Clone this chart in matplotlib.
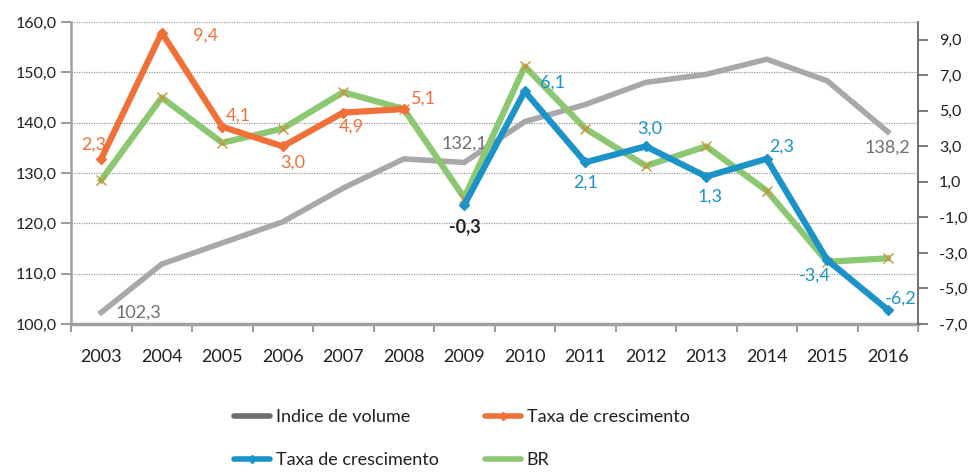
import matplotlib
matplotlib.use("Agg")
import matplotlib.pyplot as plt
from matplotlib.lines import Line2D
import numpy as np

years = ["2003", "2004", "2005", "2006", "2007", "2008", "2009",
         "2010", "2011", "2012", "2013", "2014", "2015", "2016"]
indice_volume = [102.3, 111.9, 116.1, 120.3, 127.0, 132.8, 132.1,
                 140.2, 143.6, 148.0, 149.6, 152.6, 148.3, 138.2]
taxa_orange = [2.3, 9.4, 4.1, 3.0, 4.9, 5.1]          # 2003-2008
taxa_blue = [-0.3, 6.1, 2.1, 3.0, 1.3, 2.3, -3.4, -6.2]  # 2009-2016
br = [1.1, 5.75, 3.2, 4.0, 6.05, 5.1, 0.1,
      7.5, 4.0, 1.9, 3.0, 0.5, -3.5, -3.3]
left_ticks = [100, 110, 120, 130, 140, 150, 160]
right_ticks = [-7, -5, -3, -1, 1, 3, 5, 7, 9]

GRAY = "#a8a8ab"
ORANGE = "#f07038"
BLUE = "#1b93c8"
GREEN = "#8cc872"
TXT = "#231f20"

plt.rcParams['font.family'] = ['Lato', 'DejaVu Sans']

fig = plt.figure(figsize=(9.71, 4.72), dpi=100)
ax = fig.add_axes([71/971, 1-324/472, (918-71)/971, (324-22)/472])
ax2 = ax.twinx()

x = np.arange(len(years))
xo = x[:len(taxa_orange)]
xb = x[len(taxa_orange):len(taxa_orange)+len(taxa_blue)]

# left axis: gray index
ax.plot(x, indice_volume, color=GRAY, lw=4.0, solid_joinstyle='miter', zorder=3)
ax.set_ylim(100, 160)
ax.set_yticks(left_ticks)
ax.set_yticklabels([f"{v:.1f}".replace(".", ",") for v in left_ticks])
for v in left_ticks[1:]:
    ax.axhline(v, color="#9a9a9a", lw=0.9, ls=(0, (1, 1)), zorder=1)
ax.set_xlim(-0.5, len(years) - 0.5)
ax.set_xticks(x)
ax.set_xticklabels(years)
ax.set_xticks(np.arange(-0.5, len(years) + 0.5, 1), minor=True)
ax.tick_params(axis='x', which='major', length=0, labelsize=13, labelcolor=TXT, pad=18)
ax.tick_params(axis='x', which='minor', length=6, width=1.2, color="#888888", direction='out')
ax.tick_params(axis='y', length=7, width=1.2, color="#888888", labelsize=11.5, labelcolor=TXT, pad=3)
for s in ["top", "right"]:
    ax.spines[s].set_visible(False)
ax.spines["left"].set_color("#a0a0a0")
ax.spines["left"].set_linewidth(1.8)
ax.spines["bottom"].set_color("#a0a0a0")
ax.spines["bottom"].set_linewidth(2.5)

# right axis
ax2.plot(x, br, color=GREEN, lw=4.5, zorder=2, marker='x', markersize=7,
         markeredgecolor="#d0903a", markeredgewidth=1.0)
ax2.plot(xo, taxa_orange, color=ORANGE, lw=4.5, marker='D', markersize=5,
         markeredgecolor=ORANGE, zorder=3)
ax2.plot(xb, taxa_blue, color=BLUE, lw=4.5, marker='D', markersize=5,
         markeredgecolor=BLUE, zorder=4)
ax2.set_ylim(-7, 10)
ax2.set_yticks(right_ticks)
ax2.set_yticklabels([f"{v:.1f}".replace(".", ",") for v in right_ticks])
ax2.tick_params(axis='y', length=7, width=1.2, color="#666666", labelsize=11.5,
                labelcolor=TXT, pad=8)
for s in ["top", "left", "bottom"]:
    ax2.spines[s].set_visible(False)
ax2.spines["right"].set_color("#666666")
ax2.spines["right"].set_linewidth(1.3)

def lab(axis, xi, yi, txt, dx, dy, color, bold=False):
    axis.annotate(txt, (xi, yi), xytext=(dx, dy), textcoords='offset pixels',
                  ha='center', va='center', fontsize=13, color=color,
                  fontweight='bold' if bold else 'normal', zorder=10)

fmt = lambda v: f"{v:.1f}".replace(".", ",")
orange_off = [(-8, 14), (44, -3), (16, 11), (10, -16), (8, -14), (20, 10)]
for i, v in enumerate(taxa_orange):
    lab(ax2, xo[i], v, fmt(v), *orange_off[i], ORANGE)
blue_off = [(1, -22), (28, 9), (0, -20), (4, 18), (4, -20), (15, 12), (-12, -16), (13, 11)]
for i, v in enumerate(taxa_blue):
    if i == 0:
        lab(ax2, xb[i], v, fmt(v), *blue_off[i], TXT, bold=True)
    else:
        lab(ax2, xb[i], v, fmt(v), *blue_off[i], BLUE)
gray_txt = "#707072"
lab(ax, 0, indice_volume[0], fmt(indice_volume[0]), 37, 0, gray_txt)
lab(ax, 6, indice_volume[6], fmt(indice_volume[6]), 0, 19, gray_txt)
lab(ax, 13, indice_volume[13], fmt(indice_volume[13]), 0, -16, gray_txt)

handles = [
    Line2D([], [], color="#6d6e70", lw=4, solid_capstyle='round'),
    Line2D([], [], color=BLUE, lw=4, marker='D', markersize=4, solid_capstyle='round'),
    Line2D([], [], color=ORANGE, lw=4, marker='D', markersize=4, solid_capstyle='round'),
    Line2D([], [], color=GREEN, lw=4, solid_capstyle='round'),
]
labels = ["Indice de volume", "Taxa de crescimento", "Taxa de crescimento", "BR"]
fig.legend(handles, labels, ncol=2, loc='upper left', bbox_to_anchor=(234/971, 1-409/472),
           frameon=False, fontsize=13, handlelength=2.0, handletextpad=0.3,
           labelspacing=1.5, columnspacing=2.6, borderpad=0, borderaxespad=0,
           labelcolor=TXT)

fig.savefig("out.png", dpi=100)
